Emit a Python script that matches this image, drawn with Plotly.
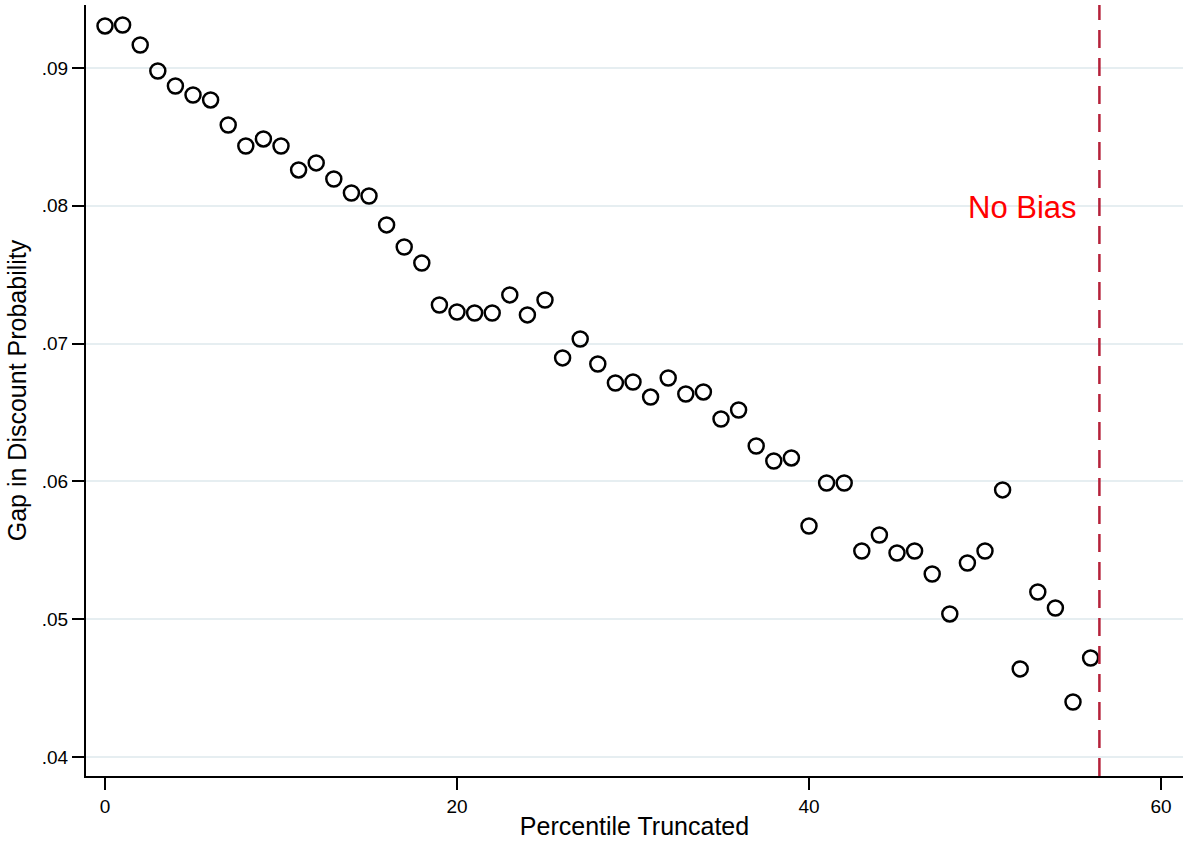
import plotly.graph_objects as go

# Share of the distribution truncated (percentile) and the resulting gap
percentile = list(range(57))
gap = [
    0.09305, 0.09312, 0.09167, 0.08978, 0.08869, 0.08804, 0.08768, 0.08586,
    0.08434, 0.08485, 0.08434, 0.08260, 0.08311, 0.08194, 0.08093, 0.08071,
    0.07861, 0.07701, 0.07585, 0.07280, 0.07229, 0.07222, 0.07222, 0.07353,
    0.07208, 0.07316, 0.06896, 0.07033, 0.06852, 0.06714, 0.06721, 0.06612,
    0.06750, 0.06634, 0.06649, 0.06453, 0.06518, 0.06257, 0.06148, 0.06170,
    0.05676, 0.05988, 0.05988, 0.05495, 0.05611, 0.05480, 0.05495, 0.05328,
    0.05038, 0.05408, 0.05495, 0.05938, 0.04639, 0.05197, 0.05081, 0.04399,
    0.04718,
]
no_bias_x = 56.5
x_ticks = [0, 20, 40, 60]
y_ticks = [0.04, 0.05, 0.06, 0.07, 0.08, 0.09]
y_tick_labels = [".04", ".05", ".06", ".07", ".08", ".09"]

FONT = "Liberation Sans, Arial, Helvetica, sans-serif"

fig = go.Figure()
fig.add_trace(go.Scatter(
    x=percentile, y=gap, mode="markers",
    marker=dict(symbol="circle-open", size=15, color="black",
                line=dict(width=2.5, color="black")),
    showlegend=False, hoverinfo="x+y",
))

fig.add_vline(x=no_bias_x, line=dict(color="#b5213a", width=2.5, dash="18px,10px"))
fig.add_annotation(x=no_bias_x, y=0.0799, xref="x", yref="y",
                   text="No Bias", showarrow=False, xanchor="right",
                   xshift=-20, font=dict(family=FONT, size=31, color="red"))

fig.update_layout(
    width=1183, height=842,
    margin=dict(l=86, r=0, t=5, b=66),
    paper_bgcolor="white", plot_bgcolor="white",
    font=dict(family=FONT, color="black"),
    xaxis=dict(
        range=[-1.08, 61.25], tickvals=x_ticks,
        ticks="outside", ticklen=12, tickwidth=1.5, tickcolor="black",
        showline=True, linecolor="black", linewidth=2,
        showgrid=False, zeroline=False,
        tickfont=dict(size=19),
        title=dict(text="Percentile Truncated", font=dict(size=25), standoff=2),
    ),
    yaxis=dict(
        range=[0.03862, 0.09457], tickvals=y_ticks, ticktext=y_tick_labels,
        ticks="outside", ticklen=12, tickwidth=1.5, tickcolor="black",
        showline=True, linecolor="black", linewidth=2,
        showgrid=True, gridcolor="#e6eef1", gridwidth=2, zeroline=False,
        tickfont=dict(size=19),
        title=dict(text="Gap in Discount Probability", font=dict(size=25), standoff=8),
    ),
)

fig.write_html("out.html")
